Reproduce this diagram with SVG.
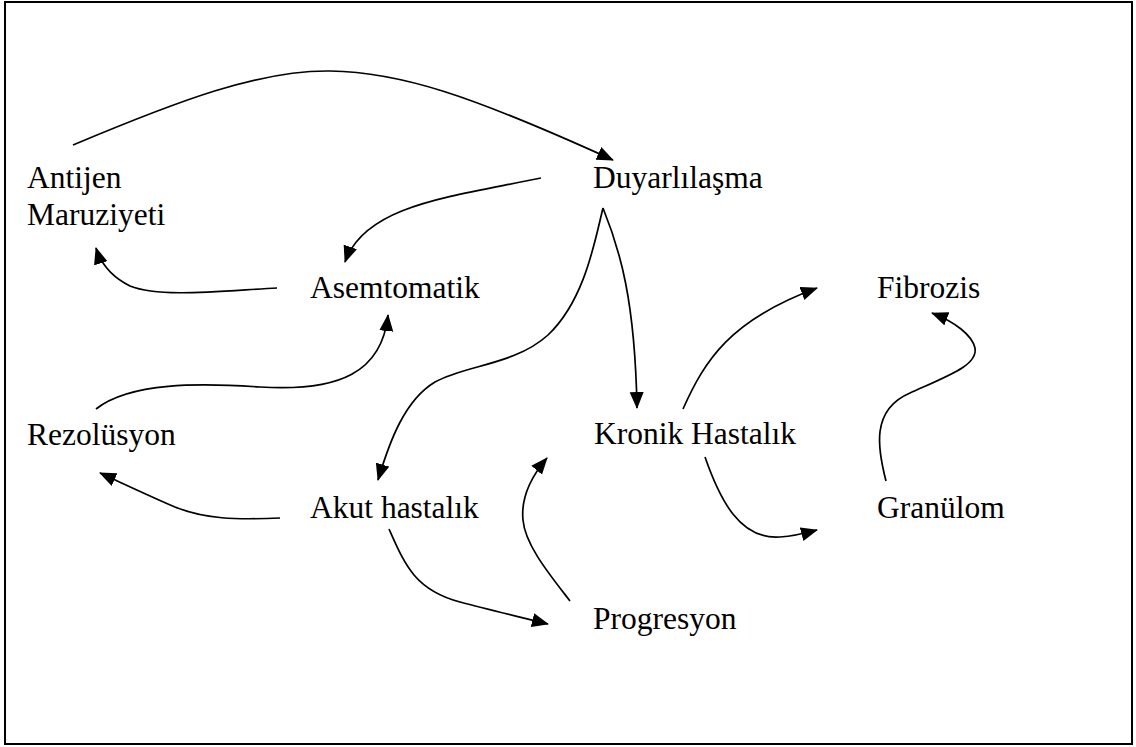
<svg xmlns="http://www.w3.org/2000/svg" width="1136" height="747" viewBox="0 0 1136 747">
<style>
.lbl{font-family:"Liberation Serif","Times New Roman",serif;font-size:31.5px;fill:#000}
.c{fill:none;stroke:#000;stroke-width:1.7}
.a{marker-end:url(#ah)}
</style>
<defs>
<marker id="ah" markerUnits="userSpaceOnUse" markerWidth="18" markerHeight="15" refX="16" refY="7" orient="auto">
<path d="M0,0 L17,7 L0,14 z" fill="#000"/>
</marker>
</defs>
<rect x="5" y="2" width="1127" height="742" fill="#fff" stroke="#000" stroke-width="2"/>
<g id="connectors">
<path class="c a" d="M73,145 C180,100 260,70 330,71 C400,72 470,95 613,160"/>
<path class="c a" d="M541,178 C450,197 365,205 345,262"/>
<path class="c a" d="M277,288 C220,291 160,298 130,286 C112,277 101,264 96,248"/>
<path class="c a" d="M96,409 C130,382 200,383 260,387 C340,392 382,372 388,315"/>
<path class="c a" d="M280,518 C235,520 205,519 175,507 C145,494 122,483 100,473"/>
<path class="c a" d="M603,208 C595,240 585,300 548,335 C515,365 465,365 435,382 C405,400 390,440 378,480"/>
<path class="c a" d="M603,208 C620,250 635,300 637,408"/>
<path class="c a" d="M683,409 C705,360 730,320 817,288"/>
<path class="c a" d="M705,457 C720,500 740,540 780,537 C795,536 806,533 817,530"/>
<path class="c a" d="M886,481 C878,450 870,410 910,393 C950,375 978,365 975,348 C972,335 955,322 932,313"/>
<path class="c a" d="M389,529 C405,565 415,590 460,602 C490,610 520,617 548,624"/>
<path class="c a" d="M570,601 C550,575 525,545 523,520 C521,500 530,478 547,458"/>
</g>
<g id="antijen"><text class="lbl" x="27" y="188">Antijen</text><text class="lbl" x="27" y="225">Maruziyeti</text></g>
<g id="duyarlilasma"><text class="lbl" x="593" y="188">Duyarlılaşma</text></g>
<g id="asemtomatik"><text class="lbl" x="310" y="298">Asemtomatik</text></g>
<g id="fibrozis"><text class="lbl" x="877" y="298">Fibrozis</text></g>
<g id="rezolusyon"><text class="lbl" x="27" y="445">Rezolüsyon</text></g>
<g id="kronik"><text class="lbl" x="594" y="444">Kronik Hastalık</text></g>
<g id="akut"><text class="lbl" x="310" y="518">Akut hastalık</text></g>
<g id="granulom"><text class="lbl" x="877" y="518">Granülom</text></g>
<g id="progresyon"><text class="lbl" x="593" y="629">Progresyon</text></g>
</svg>
